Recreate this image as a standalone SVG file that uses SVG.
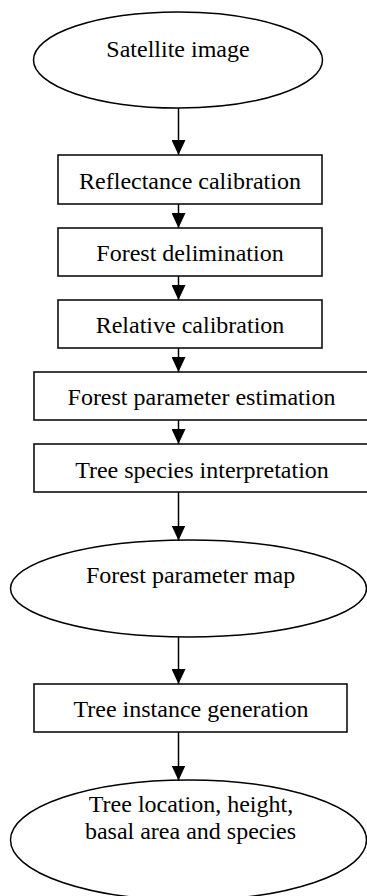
<svg xmlns="http://www.w3.org/2000/svg" width="367" height="896" viewBox="0 0 367 896">
<defs>
<style>
.shape{fill:#fff;stroke:#000;stroke-width:1.5}
.lbl{font-size:24px;fill:#000;text-anchor:middle}
.conn{stroke:#000;stroke-width:1.5;fill:none}
</style>
<marker id="ah" markerUnits="userSpaceOnUse" markerWidth="15" markerHeight="14" refX="15" refY="7" orient="auto">
<path d="M0,0 L15,7 L0,14 z" fill="#000"/>
</marker>
</defs>
<rect width="367" height="896" fill="#fff"/>
<g font-family="'Liberation Serif', 'Times New Roman', 'DejaVu Serif', serif">
<g id="n1"><ellipse class="shape" cx="178" cy="60" rx="144.5" ry="48"/><text class="lbl" x="178" y="57">Satellite image</text></g>
<g id="n2"><rect class="shape" x="58" y="155" width="264" height="49"/><text class="lbl" x="190" y="189">Reflectance calibration</text></g>
<g id="n3"><rect class="shape" x="58" y="228" width="264" height="48"/><text class="lbl" x="190" y="261">Forest delimination</text></g>
<g id="n4"><rect class="shape" x="58" y="300" width="264" height="48"/><text class="lbl" x="190" y="333">Relative calibration</text></g>
<g id="n5"><rect class="shape" x="34" y="372" width="336" height="48"/><text class="lbl" x="201.5" y="405">Forest parameter estimation</text></g>
<g id="n6"><rect class="shape" x="34" y="444" width="336" height="48"/><text class="lbl" x="202" y="477.5">Tree species interpretation</text></g>
<g id="n7"><ellipse class="shape" cx="188.5" cy="588.5" rx="178" ry="48.5"/><text class="lbl" x="190.5" y="583">Forest parameter map</text></g>
<g id="n8"><rect class="shape" x="34" y="684" width="313" height="48"/><text class="lbl" x="191" y="717">Tree instance generation</text></g>
<g id="n9"><ellipse class="shape" cx="188.5" cy="840" rx="178" ry="60"/><text class="lbl" x="191" y="811.5">Tree location, height,</text><text class="lbl" x="190.5" y="838.5">basal area and species</text></g>
</g>
<g id="connectors">
<line class="conn" x1="178.5" y1="108" x2="178.5" y2="155" marker-end="url(#ah)"/>
<line class="conn" x1="178.5" y1="204" x2="178.5" y2="228" marker-end="url(#ah)"/>
<line class="conn" x1="178.5" y1="276" x2="178.5" y2="300" marker-end="url(#ah)"/>
<line class="conn" x1="178.5" y1="348" x2="178.5" y2="372" marker-end="url(#ah)"/>
<line class="conn" x1="178.5" y1="420" x2="178.5" y2="444" marker-end="url(#ah)"/>
<line class="conn" x1="178.5" y1="492" x2="178.5" y2="540.5" marker-end="url(#ah)"/>
<line class="conn" x1="178.5" y1="637" x2="178.5" y2="684" marker-end="url(#ah)"/>
<line class="conn" x1="178.5" y1="732" x2="178.5" y2="780.5" marker-end="url(#ah)"/>
</g>
</svg>
